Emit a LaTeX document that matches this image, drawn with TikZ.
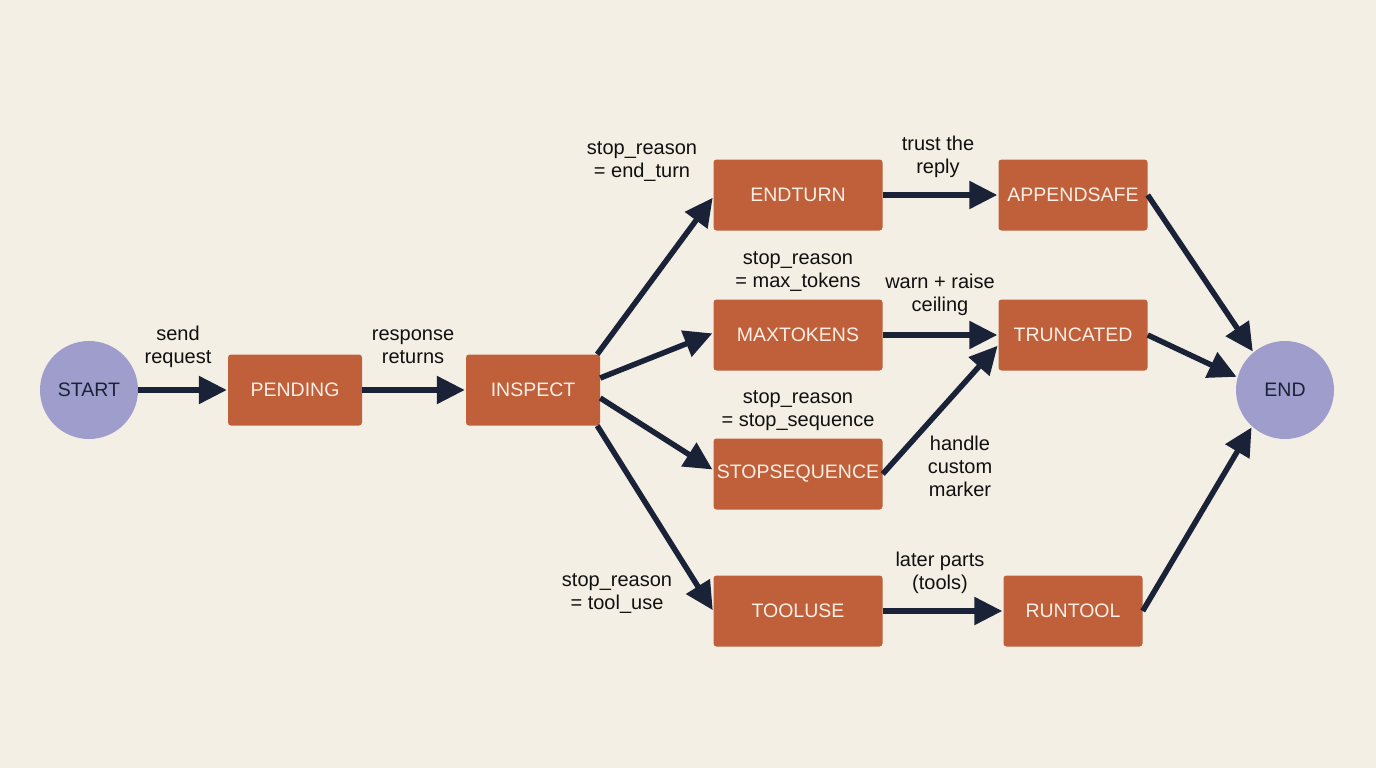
\documentclass[tikz,border=0pt]{standalone}
\usepackage{fontspec}
\setmainfont{Liberation Sans}
\usetikzlibrary{arrows.meta}
\definecolor{bgc}{HTML}{F3EFE4}
\definecolor{boxc}{HTML}{C0603B}
\definecolor{circc}{HTML}{9E9DCB}
\definecolor{arrc}{HTML}{1A2238}
\definecolor{boxtxt}{HTML}{FBEFE6}
\definecolor{lbl}{HTML}{101010}
\tikzset{
  statebox/.style={rectangle, rounded corners=3pt, fill=boxc, text=boxtxt, minimum height=71pt, inner sep=0pt, font=\fontsize{19.5}{23}\selectfont},
  termnode/.style={circle, fill=circc, text=arrc, minimum size=98pt, inner sep=0pt, font=\fontsize{19.5}{23}\selectfont},
  flow/.style={draw=arrc, line width=5.5pt, -{Triangle[length=28pt,width=27pt]}, shorten >=1pt},
  lab/.style={align=center, text=lbl, font=\fontsize{20}{23}\selectfont, inner sep=0pt}
}
\begin{document}
\begin{tikzpicture}[x=1pt,y=-1pt]
\fill[bgc] (0,0) rectangle (1376,768);
\useasboundingbox (0,0) rectangle (1376,768);
\node[termnode] (start) at (89,390) {START};
\node[termnode] (end) at (1285,390) {END};
\node[statebox, minimum width=134pt] (pending) at (295,390) {PENDING};
\node[statebox, minimum width=134pt] (inspect) at (533,390) {INSPECT};
\node[statebox, minimum width=169pt] (endturn) at (798,195) {ENDTURN};
\node[statebox, minimum width=169pt] (maxtok) at (798,335) {MAXTOKENS};
\node[statebox, minimum width=169pt] (stopseq) at (798,474) {STOPSEQUENCE};
\node[statebox, minimum width=169pt] (tooluse) at (798,611) {TOOLUSE};
\node[statebox, minimum width=149pt] (append) at (1073,195) {APPENDSAFE};
\node[statebox, minimum width=149pt] (trunc) at (1073,335) {TRUNCATED};
\node[statebox, minimum width=139pt] (runtool) at (1073,611) {RUNTOOL};

\draw[flow] (start) -- (pending);
\draw[flow] (pending) -- (inspect);
\draw[flow] ([xshift=-3pt]inspect.north east) -- ([yshift=-2pt]endturn.west);
\draw[flow] ([yshift=12pt]inspect.east) -- ([yshift=2pt]maxtok.west);
\draw[flow] ([yshift=-8pt]inspect.east) -- ([yshift=4pt]stopseq.west);
\draw[flow] ([xshift=-3pt]inspect.south east) -- (tooluse.west);
\draw[flow] (endturn) -- (append);
\draw[flow] (maxtok) -- (trunc);
\draw[flow] (stopseq.east) -- ([yshift=-10pt]trunc.west);
\draw[flow] (tooluse) -- (runtool);
\draw[flow] (append.east) -- (end.130);
\draw[flow] (trunc.east) -- (end.165);
\draw[flow] (runtool.east) -- (end.228);

\node[lab] (l1) at (178,347) {send\\request};
\node[lab] (l2) at (413,347) {response\\returns};
\node[lab] (l3) at (642,162) {stop\_reason\\= end\_turn};
\node[lab] (l4) at (798,272) {stop\_reason\\= max\_tokens};
\node[lab] (l5) at (798,411) {stop\_reason\\= stop\_sequence};
\node[lab] (l6) at (617,594) {stop\_reason\\= tool\_use};
\node[lab] (l7) at (938,157) {trust the\\reply};
\node[lab] (l8) at (940,295) {warn + raise\\ceiling};
\node[lab] (l9) at (960,466) {handle\\custom\\marker};
\node[lab] (l10) at (940,573) {later parts\\(tools)};
\end{tikzpicture}
\end{document}
